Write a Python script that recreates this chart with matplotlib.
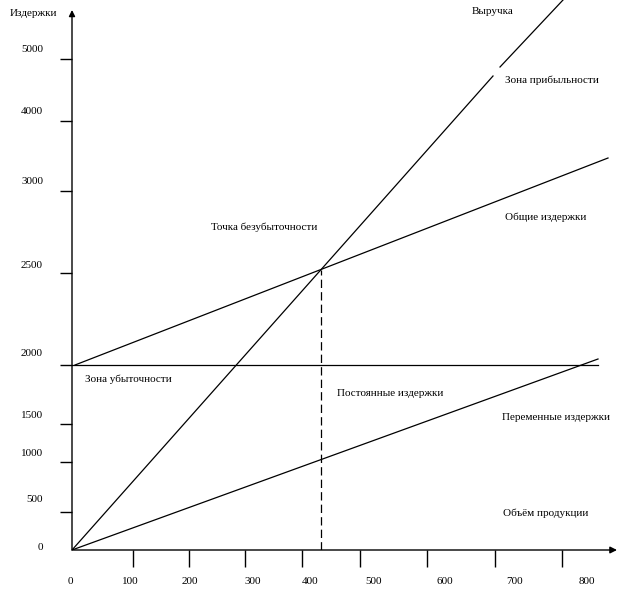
# Break-even chart (schematic): revenue, total, fixed and variable costs
import numpy as np
import matplotlib.pyplot as plt

plt.rcParams['font.family'] = ['Liberation Serif', 'DejaVu Serif']
plt.rcParams['lines.scale_dashes'] = False

# schematic units (the original drawing is not to scale)
x_ticks = [61, 117, 173, 230, 288, 355, 423, 490]
x_tick_labels = ['0', '100', '200', '300', '400', '500', '600', '700', '800']
x_label_pos = [-2, 58, 118, 181, 238, 302, 373, 443, 515]

y_ticks = [38, 88, 126, 185, 277, 359, 429, 491]
y_tick_labels = ['0', '500', '1000', '1500', '2000', '2500', '3000', '4000', '5000']
y_label_pos = [3, 51, 97, 134, 196, 285, 368, 438, 500]

# lines
revenue_x = [0, 421, np.nan, 428, 491]
revenue_y = [0, 474, np.nan, 483, 550]
total_x = [3, 536]
total_y = [185, 392]
fixed_x = [0, 526]
fixed_y = [185, 185]
variable_x = [0, 526]
variable_y = [0, 191]
breakeven = (249, 280)

labels = {
    'Издержки': (-62, 537),
    'Выручка': (400, 538),
    'Зона прибыльности': (433, 470),
    'Общие издержки': (433, 333),
    'Точка безубыточности': (139, 323),
    'Зона убыточности': (13, 171),
    'Постоянные издержки': (265, 157),
    'Переменные издержки': (430, 133),
    'Объём продукции': (431, 37),
}

fig = plt.figure(figsize=(6.19, 5.98), dpi=100)
ax = fig.add_axes([72 / 619, 48 / 598, 547 / 619, 550 / 598])
ax.set_xlim(0, 547)
ax.set_ylim(0, 550)
for s in ax.spines.values():
    s.set_visible(False)

lw = 0.9
ax.plot(revenue_x, revenue_y, color='k', lw=lw)
ax.plot(total_x, total_y, color='k', lw=lw)
ax.plot(fixed_x, fixed_y, color='k', lw=lw)
ax.plot(variable_x, variable_y, color='k', lw=lw)
ax.plot([breakeven[0], breakeven[0]], [0, breakeven[1]], color='k', lw=lw,
        linestyle=(0, (6, 3)))

# axes with arrows
ax.annotate('', xy=(545, 0), xytext=(0, 0), annotation_clip=False,
            arrowprops=dict(arrowstyle='-|>', lw=1.0, color='k',
                            mutation_scale=10, shrinkA=0, shrinkB=0))
ax.annotate('', xy=(0, 540), xytext=(0, 0), annotation_clip=False,
            arrowprops=dict(arrowstyle='-|>', lw=1.0, color='k',
                            mutation_scale=9, shrinkA=0, shrinkB=0))

ax.set_xticks(x_ticks)
ax.set_yticks(y_ticks)
ax.set_xticklabels([])
ax.set_yticklabels([])
ax.tick_params(axis='x', direction='out', length=12.5, width=1.0, color='k')
ax.tick_params(axis='y', direction='out', length=9, width=1.0, color='k')

fs = 8
for lab, xp in zip(x_tick_labels, x_label_pos):
    ax.text(xp, -31, lab, ha='center', va='center', fontsize=fs)
for lab, yp in zip(y_tick_labels, y_label_pos):
    ax.text(-29, yp, lab, ha='right', va='center', fontsize=fs)

for txt, (tx, ty) in labels.items():
    ax.text(tx, ty, txt, ha='left', va='center', fontsize=fs)

fig.savefig('out.png', dpi=100)
